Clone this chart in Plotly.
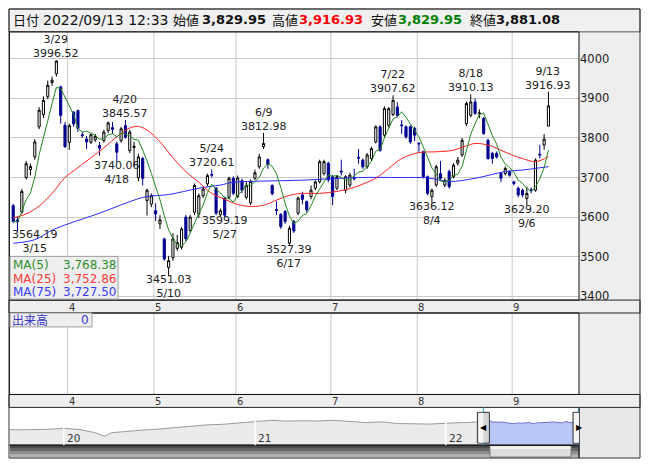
import numpy as np
import pandas as pd
import plotly.graph_objects as go

# ---------------- data ----------------
holidays = ['2022-03-21', '2022-04-29', '2022-05-03', '2022-05-04', '2022-05-05', '2022-07-18', '2022-08-11']
dates = [d for d in pd.bdate_range('2022-03-14', '2022-09-13') if d.strftime('%Y-%m-%d') not in holidays]

opens = [3629, 3593, 3613, 3700, 3720, 3752, 3828, 3859, 3904, 3940, 3962, 3929, 3832, 3789, 3865, 3869, 3808, 3797, 3789, 3795,
         3781, 3793, 3819, 3826, 3785, 3793, 3831, 3768, 3776, 3700, 3748, 3642, 3633, 3616, 3583, 3545, 3473, 3498, 3521, 3524,
         3600, 3566, 3612, 3608, 3654, 3684, 3708, 3673, 3606, 3648, 3650, 3698, 3652, 3692, 3650, 3636, 3698, 3727, 3778, 3745,
         3680, 3619, 3607, 3614, 3534, 3589, 3610, 3656, 3639, 3652, 3673, 3689, 3710, 3736, 3702, 3673, 3716, 3668, 3681, 3699,
         3751, 3744, 3727, 3748, 3790, 3828, 3807, 3832, 3859, 3878, 3833, 3828, 3828, 3824, 3787, 3765, 3702, 3652, 3681, 3710,
         3681, 3715, 3702, 3736, 3757, 3836, 3857, 3891, 3861, 3849, 3794, 3761, 3761, 3710, 3710, 3715, 3689, 3673, 3668, 3647,
         3669, 3668, 3759, 3782, 3829.95]
highs = [3633, 3600, 3671, 3742, 3735, 3797, 3878, 3905, 3945, 3955, 3996.52, 3932, 3840, 3836, 3868, 3872, 3815, 3805, 3812, 3810,
         3790, 3820, 3842, 3840, 3790, 3828, 3845.57, 3820, 3790, 3760, 3752, 3672, 3660, 3635, 3605, 3548, 3502, 3560, 3555, 3575,
         3605, 3606, 3685, 3660, 3678, 3710, 3720.61, 3676, 3622, 3652, 3702, 3703, 3705, 3697, 3690, 3695, 3720, 3760, 3812.98, 3748,
         3683, 3640, 3610, 3618, 3578, 3593, 3652, 3664, 3642, 3680, 3693, 3745, 3745, 3740, 3706, 3706, 3745, 3706, 3712, 3722,
         3772, 3748, 3762, 3778, 3832, 3832, 3880, 3878, 3907.62, 3890, 3845, 3832, 3832, 3828, 3788, 3768, 3705, 3672, 3732, 3742,
         3698, 3720, 3736, 3752, 3800, 3892, 3910.13, 3900, 3872, 3853, 3798, 3765, 3766, 3714, 3728, 3718, 3692, 3677, 3672, 3677,
         3675, 3748, 3783, 3810, 3916.93]
lows = [3585, 3564.19, 3608, 3695, 3705, 3745, 3822, 3850, 3898, 3932, 3955, 3836, 3775, 3770, 3828, 3815, 3800, 3772, 3785, 3790,
        3755, 3788, 3812, 3810, 3740.06, 3788, 3798, 3762, 3728, 3690, 3680, 3604, 3625, 3590, 3570, 3490, 3451.03, 3490, 3515, 3518,
        3540, 3560, 3605, 3598, 3648, 3678, 3700, 3605, 3602, 3599.19, 3645, 3655, 3648, 3660, 3645, 3630, 3694, 3722, 3772, 3722,
        3655, 3605, 3570, 3583, 3527.39, 3560, 3605, 3632, 3612, 3645, 3668, 3685, 3705, 3688, 3630, 3668, 3705, 3660, 3675, 3693,
        3735, 3722, 3722, 3742, 3786, 3765, 3802, 3826, 3855, 3852, 3810, 3798, 3785, 3792, 3765, 3698, 3655, 3636.12, 3676, 3694,
        3676, 3672, 3698, 3730, 3752, 3830, 3852, 3858, 3850, 3808, 3745, 3735, 3748, 3688, 3705, 3702, 3680, 3650, 3650, 3629.20,
        3660, 3664, 3748, 3770, 3829.95]
closes = [3589, 3588, 3665, 3735, 3728, 3790, 3870, 3895, 3933, 3946, 3994, 3857, 3778, 3831, 3835, 3824, 3806, 3790, 3808, 3804,
          3774, 3815, 3838, 3822, 3764, 3823, 3802, 3815, 3779, 3752, 3698, 3668, 3654, 3608, 3593, 3494, 3490, 3545, 3536, 3570,
          3545, 3600, 3680, 3654, 3671, 3705, 3706, 3610, 3616, 3605, 3698, 3660, 3699, 3668, 3680, 3690, 3712, 3752, 3786, 3733,
          3659, 3617, 3576, 3589, 3572, 3565, 3648, 3645, 3618, 3668, 3689, 3740, 3740, 3694, 3652, 3702, 3714, 3702, 3706, 3697,
          3749, 3727, 3757, 3773, 3828, 3769, 3874, 3874, 3895, 3857, 3831, 3803, 3790, 3807, 3785, 3702, 3660, 3668, 3727, 3698,
          3693, 3677, 3731, 3744, 3794, 3887, 3891, 3862, 3863, 3811, 3748, 3748, 3752, 3698, 3723, 3706, 3685, 3656, 3656, 3660,
          3667, 3744, 3757, 3797, 3881.08]

# moving averages 25 / 75 (day index, value)
ma25_idx = [0, 3, 6, 9, 12, 15, 18, 21, 24, 27, 29, 31, 34, 37, 40, 43, 46, 49, 52, 55, 58, 61, 64, 67, 71, 75, 79, 82, 84,
            87, 90, 94, 98, 102, 105, 107, 110, 113, 116, 118, 121, 124]
ma25_val = [3598, 3608, 3628, 3660, 3700, 3725, 3750, 3775, 3803, 3825, 3829, 3820, 3790, 3750, 3715, 3688, 3660, 3645, 3632,
            3627, 3630, 3643, 3655, 3660, 3660, 3665, 3675, 3688, 3698, 3723, 3748, 3763, 3765, 3769, 3780, 3786, 3782, 3769,
            3755, 3748, 3740, 3752.86]
ma75_idx = [0, 5, 9, 13, 20, 28, 31, 36, 43, 48, 51, 58, 66, 74, 80, 90, 96, 101, 107, 114, 118, 124]
ma75_val = [3534, 3543, 3567, 3584, 3610, 3643, 3652, 3657, 3673, 3681, 3688, 3691, 3693, 3697, 3700, 3700, 3699, 3690, 3698,
            3715, 3719, 3727.50]

ma_names = ['MA(5)', 'MA(25)', 'MA(75)']
ma_texts = ['3,768.38', '3,752.86', '3,727.50']

high_label_idx = [10, 26, 46, 58, 88, 106, 124]
low_label_idx = [1, 24, 36, 49, 64, 97, 119]

price_ticks = [3400, 3500, 3600, 3700, 3800, 3900, 4000]

header_date = '2022/09/13 12:33'
header_items = [('始値', '3,829.95', '#111111'), ('高値', '3,916.93', '#ff0000'),
                ('安値', '3,829.95', '#008000'), ('終値', '3,881.08', '#111111')]

# long-term history for the navigator
nav_dates = ['2019-09-20', '2019-10-01', '2019-11-01', '2019-12-01', '2020-01-01', '2020-02-01', '2020-03-01',
             '2020-03-19', '2020-04-01', '2020-05-01', '2020-06-01', '2020-07-01', '2020-08-01', '2020-09-01',
             '2020-10-01', '2020-11-01', '2020-12-01', '2021-01-01', '2021-02-01', '2021-03-01', '2021-04-01',
             '2021-05-01', '2021-06-01', '2021-07-01', '2021-08-01', '2021-09-01', '2021-10-01', '2021-11-01',
             '2021-12-01', '2022-01-01', '2022-02-01', '2022-03-01', '2022-03-11']
nav_vals = [2575, 2526, 2558, 2608, 2788, 2575, 2050, 1476, 2050, 2296, 2493, 2657, 2903, 3182, 3346, 3444, 3723, 3887,
            4100, 3969, 4018, 3985, 4100, 3854, 3723, 3854, 3559, 3526, 3477, 3608, 3690, 3805, 3600]
nav_years = ['2020-01-01', '2021-01-01', '2022-01-01']

assert len(dates) == len(opens) == len(highs) == len(lows) == len(closes)

# ---------------- layout helpers ----------------
# the page body adds an 8px margin, so the figure is 8px smaller and all
# pixel positions below are measured in window pixels
OFF = 8
W, H = 653 - OFF, 470 - OFF
def PX(x):
    return (x - OFF) / W
def PY(y):
    return 1 - (y - OFF) / H

FONT = 'DejaVu Sans'
JP = 'Noto Sans CJK JP'
idx = np.arange(len(dates))
ma5 = pd.Series(closes).rolling(5, min_periods=1).mean()
XR = [-0.86, 131.08]

fig = go.Figure()
fig.add_trace(go.Scatter(x=ma75_idx, y=ma75_val, mode='lines', line=dict(color='#2a2aff', width=1, shape='spline'),
                         hoverinfo='skip'))
fig.add_trace(go.Scatter(x=ma25_idx, y=ma25_val, mode='lines', line=dict(color='#ff2020', width=1, shape='spline'),
                         hoverinfo='skip'))
fig.add_trace(go.Candlestick(x=idx, open=opens, high=highs, low=lows, close=closes,
                             increasing=dict(line=dict(color='#000000', width=1), fillcolor='#ffffff'),
                             decreasing=dict(line=dict(color='#000090', width=1), fillcolor='#000090'),
                             whiskerwidth=0))
fig.add_trace(go.Scatter(x=idx, y=ma5, mode='lines', line=dict(color='#228822', width=1), hoverinfo='skip'))

# navigator
fig.add_trace(go.Scatter(x=nav_dates, y=nav_vals, mode='lines', fill='tozeroy', fillcolor='#ebebeb',
                         line=dict(color='#9a9a9a', width=1), xaxis='x3', yaxis='y3'))
fig.add_trace(go.Scatter(x=dates, y=closes, mode='lines', fill='tozeroy', fillcolor='#b9c7f6',
                         line=dict(color='#7070c8', width=1), xaxis='x3', yaxis='y3'))

shapes = []
annos = []

def rect(x0, y0, x1, y1, fill=None, line=None, lw=1, layer='above'):
    shapes.append(dict(type='rect', xref='paper', yref='paper', x0=PX(x0), x1=PX(x1), y0=PY(y1), y1=PY(y0),
                       fillcolor=fill if fill else 'rgba(0,0,0,0)',
                       line=dict(color=line if line else 'rgba(0,0,0,0)', width=lw if line else 0), layer=layer))

def text(x, y, s, size=12, color='#111', family=FONT, xanchor='left', bold=False):
    annos.append(dict(xref='paper', yref='paper', x=PX(x), y=PY(y), text=('<b>%s</b>' % s) if bold else s,
                      showarrow=False, xanchor=xanchor, yanchor='middle',
                      font=dict(size=size, color=color, family=family), borderpad=0))

# panels
rect(9, 9, 640, 32, fill='#f0f0f0', line='#555555')
rect(579, 32, 640, 302, fill='#eeeeee', layer='below')
rect(579, 315, 640, 397, fill='#eeeeee', layer='below')
rect(579, 410, 640, 461, fill='#e8e8e8', layer='below')
rect(9, 302, 640, 315, fill='#eeeeee', line='#222222')
rect(9, 397, 640, 410, fill='#eeeeee', line='#222222')
rect(9.5, 32, 579, 302, line='#111111')
rect(9.5, 315, 579, 397, line='#111111')
# scrollbar
for (a, b, c) in [(448, 451, '#4a4a4a'), (451, 454, '#666666'), (454, 457, '#8c8c8c'), (457, 460.5, '#b0b0b0')]:
    rect(10, a, 579, b, fill=c)
rect(490, 448.5, 571, 460, fill='#dedede', line='#777777')
rect(490.5, 449, 570.5, 452, fill='#f2f2f2')
rect(9.5, 448, 579, 448, line='#111111')
rect(579, 410, 579, 461, line='#222222')
rect(9, 9, 640, 461, line='#333333')

# month grid lines and month labels
month_starts = [i for i in range(1, len(dates)) if dates[i].month != dates[i - 1].month]
for k in month_starts:
    for ya in ['y', 'y2']:
        xa = 'x' if ya == 'y' else 'x2'
        shapes.append(dict(type='line', xref=xa, yref=ya + ' domain', x0=k - 0.4, x1=k - 0.4, y0=0, y1=1,
                           line=dict(color='#c8c8c8', width=1), layer='below'))
    for yy, xa in [(309, 'x'), (404, 'x2')]:
        annos.append(dict(xref=xa, yref='paper', x=k - 0.4, y=PY(yy), text=str(dates[k].month), showarrow=False,
                          xanchor='center', yanchor='middle', xshift=4, borderpad=0,
                          font=dict(size=10, color='#333', family=FONT)))

# high / low labels (date and value as one two-line text)
LFONT = dict(size=11, color='#222', family=FONT)
for i in high_label_idx:
    ds = '%d/%d' % (dates[i].month, dates[i].day)
    annos.append(dict(xref='x', yref='y', x=i, y=highs[i], text='%s<br>%.2f' % (ds, highs[i]), showarrow=False,
                      xanchor='center', yanchor='bottom', align='center', yshift=-1, font=LFONT, borderpad=0))
for i in low_label_idx:
    ds = '%d/%d' % (dates[i].month, dates[i].day)
    if i < 6:
        kw = dict(x=XR[0], xanchor='left', xshift=1)
    else:
        kw = dict(x=i, xanchor='center')
    annos.append(dict(xref='x', yref='y', y=lows[i], text='%.2f<br>%s' % (lows[i], ds), showarrow=False,
                      yanchor='top', align='center', yshift=4, font=LFONT, borderpad=0, **kw))

# header
text(12, 20, '日付', 13, '#111', JP)
text(42, 20, header_date, 14, '#111')
hx = [(172, 201), (271, 298), (370, 397), (469, 495)]
for (lab, val, col), (xl, xv) in zip(header_items, hx):
    text(xl, 20, lab, 13, '#111', JP)
    text(xv, 20, val, 13, col, FONT, bold=True)

# MA legend box
rect(10, 258, 118, 301, fill='#eeeeee', line='#a0a0a0')
ma_cols = ['#2f8f2f', '#ff3c3c', '#3c3cff']
for n, (nm, tv, col) in enumerate(zip(ma_names, ma_texts, ma_cols)):
    yy = 267 + n * 13.3
    text(12, yy, nm, 12, col)
    text(117, yy, tv, 12, col, xanchor='right')

# volume label box
rect(10, 315, 92, 329, fill='#eeeeee', line='#a0a0a0')
text(11, 322, '出来高', 12, '#3535c8', JP)
text(90, 322, '0', 12, '#3535c8', xanchor='right')

# navigator decorations
for yd in nav_years:
    shapes.append(dict(type='line', xref='x3', yref='y3 domain', x0=yd, x1=yd, y0=0, y1=1,
                       line=dict(color='#ffffff', width=1.5), layer='above'))
    annos.append(dict(xref='x3', yref='paper', x=yd, y=PY(441), text=yd[2:4], showarrow=False, xanchor='left',
                      xshift=1, yanchor='middle', font=dict(size=10.5, color='#333', family=FONT)))
for d in [dates[0], dates[-1]]:
    shapes.append(dict(type='line', xref='x3', yref='paper', x0=d, x1=d, y0=PY(448), y1=PY(410),
                       line=dict(color='#19a8e0', width=1), layer='above'))
for d, tri in [(dates[0], '◀'), (dates[-1], '▶')]:
    shapes.append(dict(type='rect', xref='x3', yref='paper', xsizemode='pixel', xanchor=d, x0=-6, x1=6,
                       y0=PY(446), y1=PY(415), fillcolor='#d4d4d4', line=dict(color='#333333', width=1), layer='above'))
    shapes.append(dict(type='rect', xref='x3', yref='paper', xsizemode='pixel', xanchor=d, x0=-5, x1=0,
                       y0=PY(445.5), y1=PY(415.5), fillcolor='#f4f4f4', line=dict(width=0), layer='above'))
    annos.append(dict(xref='x3', yref='paper', x=d, y=PY(430.5), text=tri, showarrow=False, xanchor='center',
                      yanchor='middle', font=dict(size=8, color='#000', family=FONT)))

fig.update_layout(
    width=W, height=H, margin=dict(l=0, r=0, t=0, b=0), autosize=False,
    paper_bgcolor='#ffffff', plot_bgcolor='#ffffff', showlegend=False,
    font=dict(family=FONT, size=11, color='#222'),
    xaxis=dict(domain=[PX(9.5), PX(579)], range=XR, showgrid=False, showticklabels=False, zeroline=False,
               rangeslider=dict(visible=False), fixedrange=True),
    yaxis=dict(domain=[PY(302), PY(32)], range=[3390.4, 4068.0], side='right', tickvals=price_ticks,
               ticks='', showgrid=True, gridcolor='#c8c8c8', gridwidth=1, zeroline=False,
               tickfont=dict(size=11.5, color='#222', family=FONT), fixedrange=True),
    xaxis2=dict(domain=[PX(9.5), PX(579)], range=XR, anchor='y2', visible=False),
    yaxis2=dict(domain=[PY(397), PY(315)], range=[0, 1], anchor='x2', visible=False),
    xaxis3=dict(domain=[PX(10), PX(579)], type='date', range=['2019-09-20', '2022-09-13'], anchor='y3',
                visible=False),
    yaxis3=dict(domain=[PY(448), PY(411)], range=[0, 6068], anchor='x3', visible=False),
    shapes=shapes, annotations=annos,
)

fig.write_html('out.html')
